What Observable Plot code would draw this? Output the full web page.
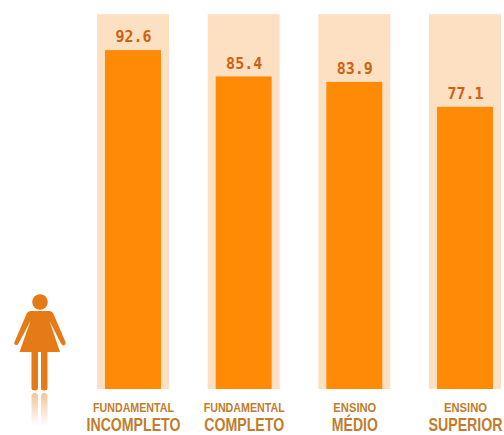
<!DOCTYPE html>
<html><head><meta charset="utf-8">
<script src="https://cdn.jsdelivr.net/npm/d3@7"></script>
<script src="https://cdn.jsdelivr.net/npm/@observablehq/plot@0.6"></script>
<style>
html,body{margin:0;padding:0;background:#fff;width:504px;height:435px;overflow:hidden}
#wrap{position:relative;width:504px;height:435px}
#wrap svg{position:absolute;left:0;top:0}
</style></head><body>
<div id="wrap">
<svg id="icon" width="504" height="435" viewBox="0 0 504 435" role="img" aria-label="Mulher">
  <defs>
    <linearGradient id="fade" x1="0" y1="393" x2="0" y2="426" gradientUnits="userSpaceOnUse">
      <stop offset="0" stop-color="#e57b16" stop-opacity="0.45"/>
      <stop offset="1" stop-color="#e57b16" stop-opacity="0"/>
    </linearGradient>
  </defs>
  <g fill="#e57b16">
    <circle cx="40" cy="302" r="7.8"/>
    <path d="M31 311H49Q52 311 53.500 314L65.500 342Q66 345 63.500 345.500Q62 345.500 61 343.500L49.500 321L60 352H19.500L30.500 321L18.500 343.500Q17.500 345.500 15.500 345Q13.500 344 14.500 342L26.500 314Q28 311 31 311Z"/>
    <path d="M31.500 352H38V388Q38 390.500 34.700 390.500Q31.500 390.500 31.500 388Z"/>
    <path d="M41 352H47.500V388Q47.500 390.500 44.200 390.500Q41 390.500 41 388Z"/>
  </g>
  <g fill="url(#fade)">
    <path d="M31.500 396Q31.500 393 34.700 393Q38 393 38 396V426H31.500Z"/>
    <path d="M41 396Q41 393 44.200 393Q47.500 393 47.500 396V426H41Z"/>
  </g>
</svg>
<div id="chart"></div>
</div>
<script>
const categories = ["fi", "fc", "em", "es"];
const values = [92.6, 85.4, 83.9, 77.1];
const valueLabels = ["92.6", "85.4", "83.9", "77.1"];
const topLines = ["FUNDAMENTAL", "FUNDAMENTAL", "ENSINO", "ENSINO"];
const bottomLines = ["INCOMPLETO", "COMPLETO", "MÉDIO", "SUPERIOR"];
const backgroundValue = 102.4;

const rows = categories.map((c, i) => ({c, v: values[i], l: valueLabels[i], a: topLines[i], b: bottomLines[i]}));
const fitted = {FUNDAMENTAL: 81, ENSINO: 43, INCOMPLETO: 94, COMPLETO: 80, "MÉDIO": 46, SUPERIOR: 74};

const plot = Plot.plot({
  width: 504, height: 435,
  marginTop: 0, marginRight: 0, marginBottom: 46, marginLeft: 0,
  style: {background: "transparent"},
  x: {type: "band", domain: categories, range: [58.3, 539.7], padding: 0.35, align: 0.5, round: false, axis: null},
  y: {domain: [0, 389 / 3.66], range: [389, 0], axis: null},
  marks: [
    Plot.barY(rows, {x: "c", y: () => backgroundValue, fill: "#fddfc2"}),
    Plot.barY(rows, {x: "c", y: "v", fill: "#ff8a05", insetLeft: 8, insetRight: 8}),
    Plot.text(rows, {x: "c", y: "v", text: "l", dy: -13, fill: "#d2600f",
      fontFamily: "'DejaVu Sans Mono',monospace", fontWeight: "bold", fontSize: 15}),
    Plot.text(rows, {x: "c", y: 0, text: "a", dy: 18, fill: "#c27c2c",
      fontFamily: "'Liberation Sans',sans-serif", fontWeight: "bold", fontSize: 13.5}),
    Plot.text(rows, {x: "c", y: 0, text: "b", dy: 35.5, fill: "#c27c2c",
      fontFamily: "'Liberation Sans',sans-serif", fontWeight: "bold", fontSize: 18})
  ]
});
document.getElementById("chart").appendChild(plot);
// The reference's lettering is condensed: fit each label to its drawn width.
d3.select(plot).selectAll("text").each(function () {
  const w = fitted[this.textContent];
  if (w) { this.setAttribute("textLength", w); this.setAttribute("lengthAdjust", "spacingAndGlyphs"); }
});
</script>
</body></html>
